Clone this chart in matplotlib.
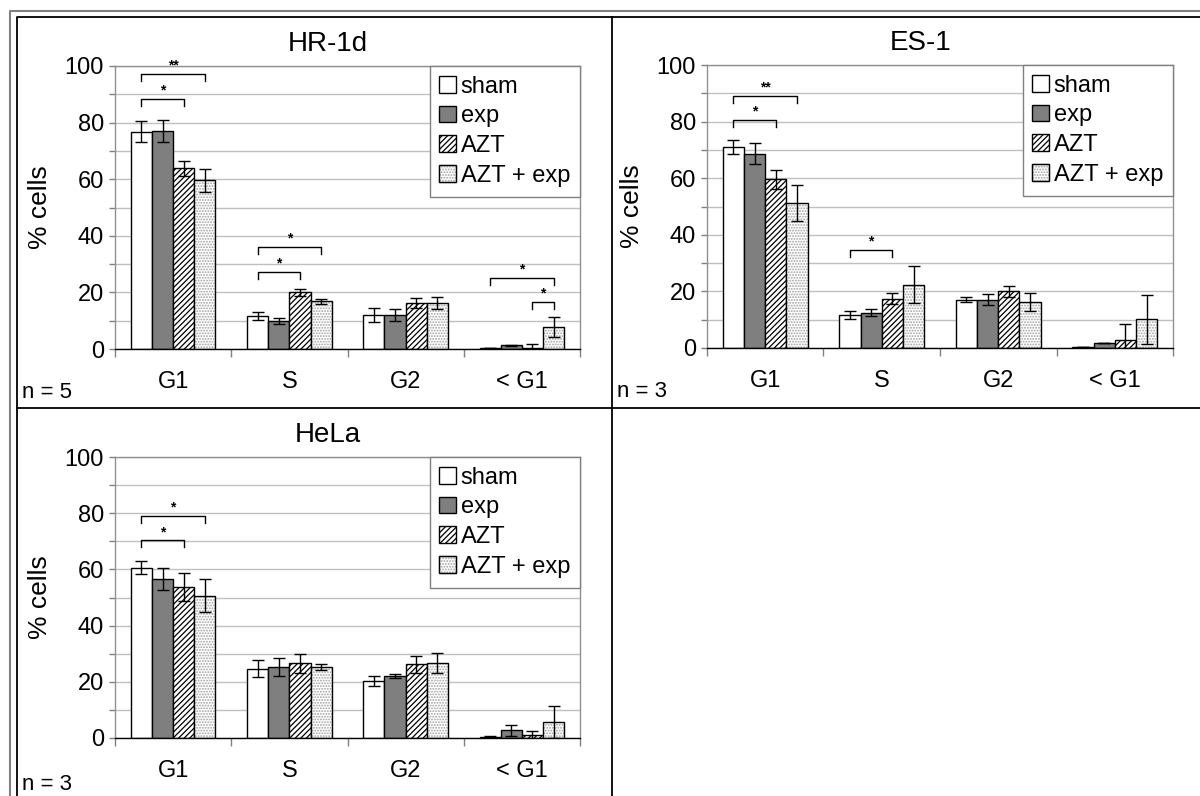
import matplotlib.pyplot as plt
import numpy as np
from matplotlib.lines import Line2D
from matplotlib.patches import Patch

plt.rcParams['font.family'] = ['Liberation Sans', 'DejaVu Sans']
plt.rcParams['hatch.linewidth'] = 0.9

W, H = 1200, 796
BAR_W = 1 / 5.5  # Excel gap width 150%
DOT_GRAY = '#a0a0a0'

phases = ['G1', 'S', 'G2', '< G1']
groups = ['sham', 'exp', 'AZT', 'AZT + exp']

# one row per group, one value per phase
hr_means = [[76.8, 11.5, 12.0, 0.3],
            [77.0, 9.9, 12.0, 1.3],
            [63.8, 20.0, 16.2, 0.3],
            [59.6, 16.8, 16.1, 7.7]]
hr_errs = [[3.8, 1.4, 2.5, 0.0],
           [4.0, 1.2, 2.2, 0.2],
           [2.7, 1.2, 1.8, 1.6],
           [4.0, 0.9, 2.1, 3.5]]
# (phase, bar a, bar b, height, label)
hr_brackets = [(0, 0, 3, 97.2, '**'), (0, 0, 2, 88.3, '*'),
               (1, 0, 3, 36.2, '*'), (1, 0, 2, 27.3, '*'),
               (3, 0, 3, 25.0, '*'), (3, 2, 3, 16.5, '*')]

es_means = [[71.1, 11.7, 17.1, 0.3],
            [68.7, 12.5, 17.1, 1.8],
            [59.6, 17.4, 20.0, 2.9],
            [51.3, 22.3, 16.3, 10.1]]
es_errs = [[2.4, 1.4, 1.0, 0.0],
           [3.8, 1.2, 1.9, 0.1],
           [3.3, 1.9, 2.0, 5.6],
           [6.3, 6.5, 3.1, 8.8]]
es_brackets = [(0, 0, 3, 89.2, '**'), (0, 0, 2, 80.6, '*'),
               (1, 0, 2, 34.7, '*')]

hela_means = [[60.6, 24.7, 20.4, 0.3],
              [56.7, 25.3, 22.0, 2.7],
              [53.6, 26.6, 26.2, 1.1],
              [50.7, 25.2, 26.8, 5.7]]
hela_errs = [[2.4, 3.1, 1.8, 0.3],
             [3.9, 3.1, 0.8, 2.1],
             [5.0, 3.3, 3.0, 1.3],
             [6.0, 1.1, 3.6, 5.7]]
hela_brackets = [(0, 0, 3, 79.0, '*'), (0, 0, 2, 70.3, '*')]


def px_rect(left, top, right, bottom):
    return [left / W, 1 - bottom / H, (right - left) / W, (bottom - top) / H]


def draw_panel(ax, title, means, errs, brackets):
    x = np.arange(len(phases))
    for i, grp in enumerate(groups):
        pos = x + (i - 1.5) * BAR_W
        if grp == 'sham':
            ax.bar(pos, means[i], BAR_W, color='white', edgecolor='black', linewidth=1, zorder=2)
        elif grp == 'exp':
            ax.bar(pos, means[i], BAR_W, color='#7f7f7f', edgecolor='black', linewidth=1, zorder=2)
        elif grp == 'AZT':
            ax.bar(pos, means[i], BAR_W, color='white', edgecolor='black', hatch='//////', linewidth=1, zorder=2)
        else:
            ax.bar(pos, means[i], BAR_W, color='white', edgecolor=DOT_GRAY, hatch='......', linewidth=0.5, zorder=2)
            ax.bar(pos, means[i], BAR_W, fill=False, edgecolor='black', linewidth=1, zorder=3)
        ax.errorbar(pos, means[i], yerr=errs[i], fmt='none', ecolor='black',
                    elinewidth=1, capsize=4, capthick=1, zorder=4)

    leg = 2.5
    for phase, a, b, y, label in brackets:
        xa = phase + (a - 1.5) * BAR_W
        xb = phase + (b - 1.5) * BAR_W
        ax.plot([xa, xa, xb, xb], [y - leg, y, y, y - leg], color='black', lw=1, zorder=5)
        ax.text((xa + xb) / 2, y + 0.5, label, ha='center', va='bottom',
                fontsize=10, fontweight='bold')

    ax.set_xlim(-0.5, len(phases) - 0.5)
    ax.set_ylim(0, 100)
    ax.set_xticks(x)
    ax.set_xticklabels(phases, fontsize=17)
    ax.set_xticks(np.arange(len(phases) + 1) - 0.5, minor=True)
    ax.tick_params(axis='x', which='major', length=0, pad=16)
    ax.tick_params(axis='x', which='minor', length=6, width=1, color='#808080', direction='out')
    ax.set_yticks(np.arange(0, 101, 20))
    ax.set_yticks(np.arange(10, 100, 20), minor=True)
    ax.tick_params(axis='y', which='both', length=4, width=1, color='#808080',
                   direction='out', labelsize=17, pad=4)
    ax.grid(axis='y', which='both', color='#c0c0c0', lw=1, zorder=0)
    ax.set_axisbelow(True)
    for side in ['top', 'right', 'left']:
        ax.spines[side].set_color('#909090')
        ax.spines[side].set_linewidth(1)
    ax.spines['bottom'].set_color('black')
    ax.spines['bottom'].set_linewidth(1)

    ax.set_ylabel('% cells', fontsize=19)
    ax.yaxis.set_label_coords(-0.135, 0.5)
    ax.set_title(title, x=0.458, pad=11, fontsize=20)

    handles = [Patch(fc='white', ec='black'),
               Patch(fc='#7f7f7f', ec='black'),
               Patch(fc='white', ec='black', hatch='//////'),
               (Patch(fc='white', ec=DOT_GRAY, hatch='......'), Patch(fill=False, ec='black'))]
    lg = ax.legend(handles, groups, loc='upper right', borderaxespad=0, fontsize=17,
                   fancybox=False, framealpha=1, edgecolor='#808080',
                   handlelength=0.7, handleheight=0.7, handletextpad=0.2,
                   labelspacing=0.32, borderpad=0.42)
    lg.get_frame().set_linewidth(1)
    lg.set_zorder(6)


fig = plt.figure(figsize=(W / 100, H / 100), dpi=100)

ax1 = fig.add_axes(px_rect(115, 66, 580, 349))
ax2 = fig.add_axes(px_rect(707, 65, 1173, 348))
ax3 = fig.add_axes(px_rect(115, 457, 580, 738))

draw_panel(ax1, 'HR-1d', hr_means, hr_errs, hr_brackets)
draw_panel(ax2, 'ES-1', es_means, es_errs, es_brackets)
draw_panel(ax3, 'HeLa', hela_means, hela_errs, hela_brackets)

fig.text(22 / W, 1 - 398 / H, 'n = 5', fontsize=16, va='baseline')
fig.text(617 / W, 1 - 397 / H, 'n = 3', fontsize=16, va='baseline')
fig.text(22 / W, 1 - 790 / H, 'n = 3', fontsize=16, va='baseline')


# chart frames
def fig_line(xs, ys, color, lw):
    fig.add_artist(Line2D([v / W for v in xs], [1 - v / H for v in ys], color=color, lw=lw))


fig_line([10, 10, W], [H, 11, 11], '#808080', 1.5)
fig_line([17, 17, W], [H, 17, 17], 'black', 1.3)
fig_line([612, 612], [17, H], 'black', 1.3)
fig_line([17, W], [408, 408], 'black', 1.3)

fig.savefig('out.png', dpi=100)
